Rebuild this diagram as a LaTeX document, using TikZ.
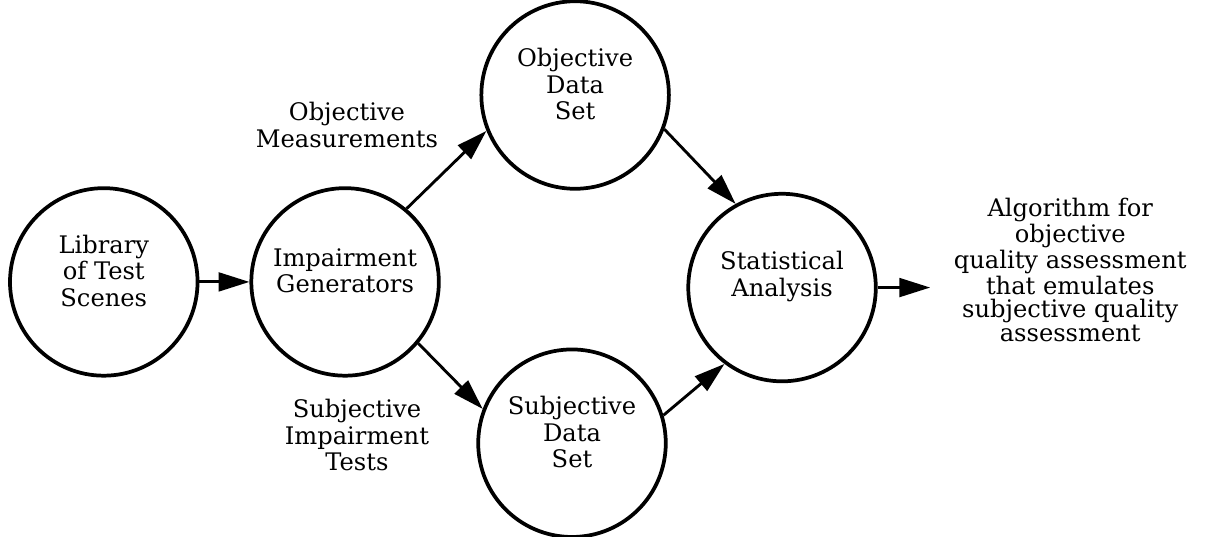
\documentclass[tikz,border=0pt]{standalone}
\usepackage{fontspec}
\setmainfont{DejaVu Serif}
\usepackage{tikz}
\usetikzlibrary{arrows.meta,positioning}

\begin{document}
\begin{tikzpicture}[
    stage/.style={circle, draw, line width=1.7pt, minimum size=3cm, inner sep=0pt},
    stagetext/.style={align=center, yshift=5pt, font=\fontsize{11}{12}\selectfont},
    flow/.style={line width=1.3pt, -{Triangle[length=14pt, width=8.5pt]}},
    note/.style={align=center, font=\fontsize{11}{12}\selectfont}
]
\useasboundingbox (0,0) rectangle (19.66,8.58);

% Circles of the process
\node[stage, label={[stagetext]center:Library\\of Test\\Scenes}] (lib) at (1.66, 4.07) {};
\node[stage, label={[stagetext]center:Impairment\\Generators}] (imp) at (5.52, 4.07) {};
\node[stage, label={[stagetext]center:Objective\\Data\\Set}] (obj) at (9.20, 7.06) {};
\node[stage, label={[stagetext]center:Subjective\\Data\\Set}] (subj) at (9.15, 1.49) {};
\node[stage, label={[stagetext]center:Statistical\\Analysis}] (stat) at (12.51, 3.98) {};

% Labels beside the branches
\node[note] (objmeas) at (5.55, 6.58) {Objective\\Measurements};
\node[note] (subjtests) at (5.71, 1.62) {Subjective\\Impairment\\Tests};

% Result text on the right
\coordinate (res) at (14.88, 3.98);
\node[note, font=\fontsize{11}{10.8}\selectfont] (result) at (17.12, 4.26)
    {Algorithm for\\objective\\quality assessment\\that emulates\\subjective quality\\assessment};

% Arrows
\draw[flow] (lib) -- (imp);
\draw[flow] (imp.50) -- (obj.-158);
\draw[flow] (imp.-40) -- (subj.159);
\draw[flow] (obj.-21) -- (stat.119);
\draw[flow] (subj.17) -- (stat.-127);
\draw[flow] (stat) -- (res);

\end{tikzpicture}
\end{document}
